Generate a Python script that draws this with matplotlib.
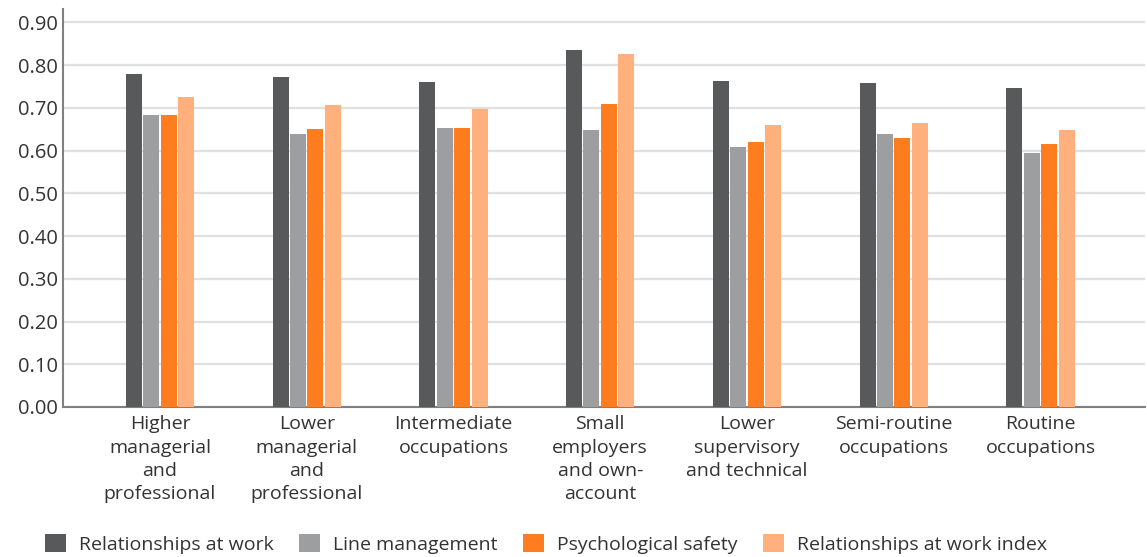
import numpy as np
import matplotlib.pyplot as plt

# ---------- Data ----------
categories = [
    "Higher\nmanagerial\nand\nprofessional",
    "Lower\nmanagerial\nand\nprofessional",
    "Intermediate\noccupations",
    "Small\nemployers\nand own-\naccount",
    "Lower\nsupervisory\nand technical",
    "Semi-routine\noccupations",
    "Routine\noccupations",
]
series_names = [
    "Relationships at work",
    "Line management",
    "Psychological safety",
    "Relationships at work index",
]
relationships = [0.780, 0.773, 0.761, 0.836, 0.763, 0.759, 0.747]
line_mgmt = [0.684, 0.639, 0.653, 0.649, 0.609, 0.639, 0.595]
psych_safety = [0.684, 0.651, 0.653, 0.710, 0.621, 0.630, 0.616]
rel_index = [0.726, 0.707, 0.698, 0.827, 0.660, 0.665, 0.649]
yticks = np.arange(0, 0.91, 0.10)

colors = ["#58595b", "#9d9ea0", "#ff7d1f", "#ffb07d"]

plt.rcParams["font.family"] = ["Open Sans", "DejaVu Sans"]

fig = plt.figure(figsize=(11.47, 5.57), dpi=100)
ax = fig.add_axes([0.055, 0.2693, 0.943, 0.715])

x = np.arange(len(categories))
step = 0.119
width = 0.109
all_series = [relationships, line_mgmt, psych_safety, rel_index]
for i, (vals, name, c) in enumerate(zip(all_series, series_names, colors)):
    ax.bar(x + (i - 1.5) * step, vals, width=width, color=c, label=name, zorder=3)

ax.set_ylim(0, 0.932)
ax.set_xlim(-0.66, 6.71)
ax.set_yticks(yticks)
ax.set_yticklabels([f"{v:.2f}" for v in yticks], fontsize=14.5, color="#333333")
ax.set_xticks(x)
ax.set_xticklabels(categories, fontsize=14, color="#333333", linespacing=1.38)
ax.tick_params(axis="both", length=0)
ax.tick_params(axis="y", pad=4)
ax.tick_params(axis="x", pad=6)

ax.grid(axis="y", color="#e0e0e0", linewidth=1.6, zorder=0)
for side in ["top", "right"]:
    ax.spines[side].set_visible(False)
for side in ["left", "bottom"]:
    ax.spines[side].set_color("#808080")
    ax.spines[side].set_linewidth(1.5)

fig.legend(
    loc="center left", bbox_to_anchor=(0.024, 0.024), ncol=4, frameon=False,
    fontsize=14, handlelength=1.1, handleheight=1.1, handletextpad=0.65,
    columnspacing=1.3, labelcolor="#333333",
)

fig.savefig("out.png", dpi=100)
